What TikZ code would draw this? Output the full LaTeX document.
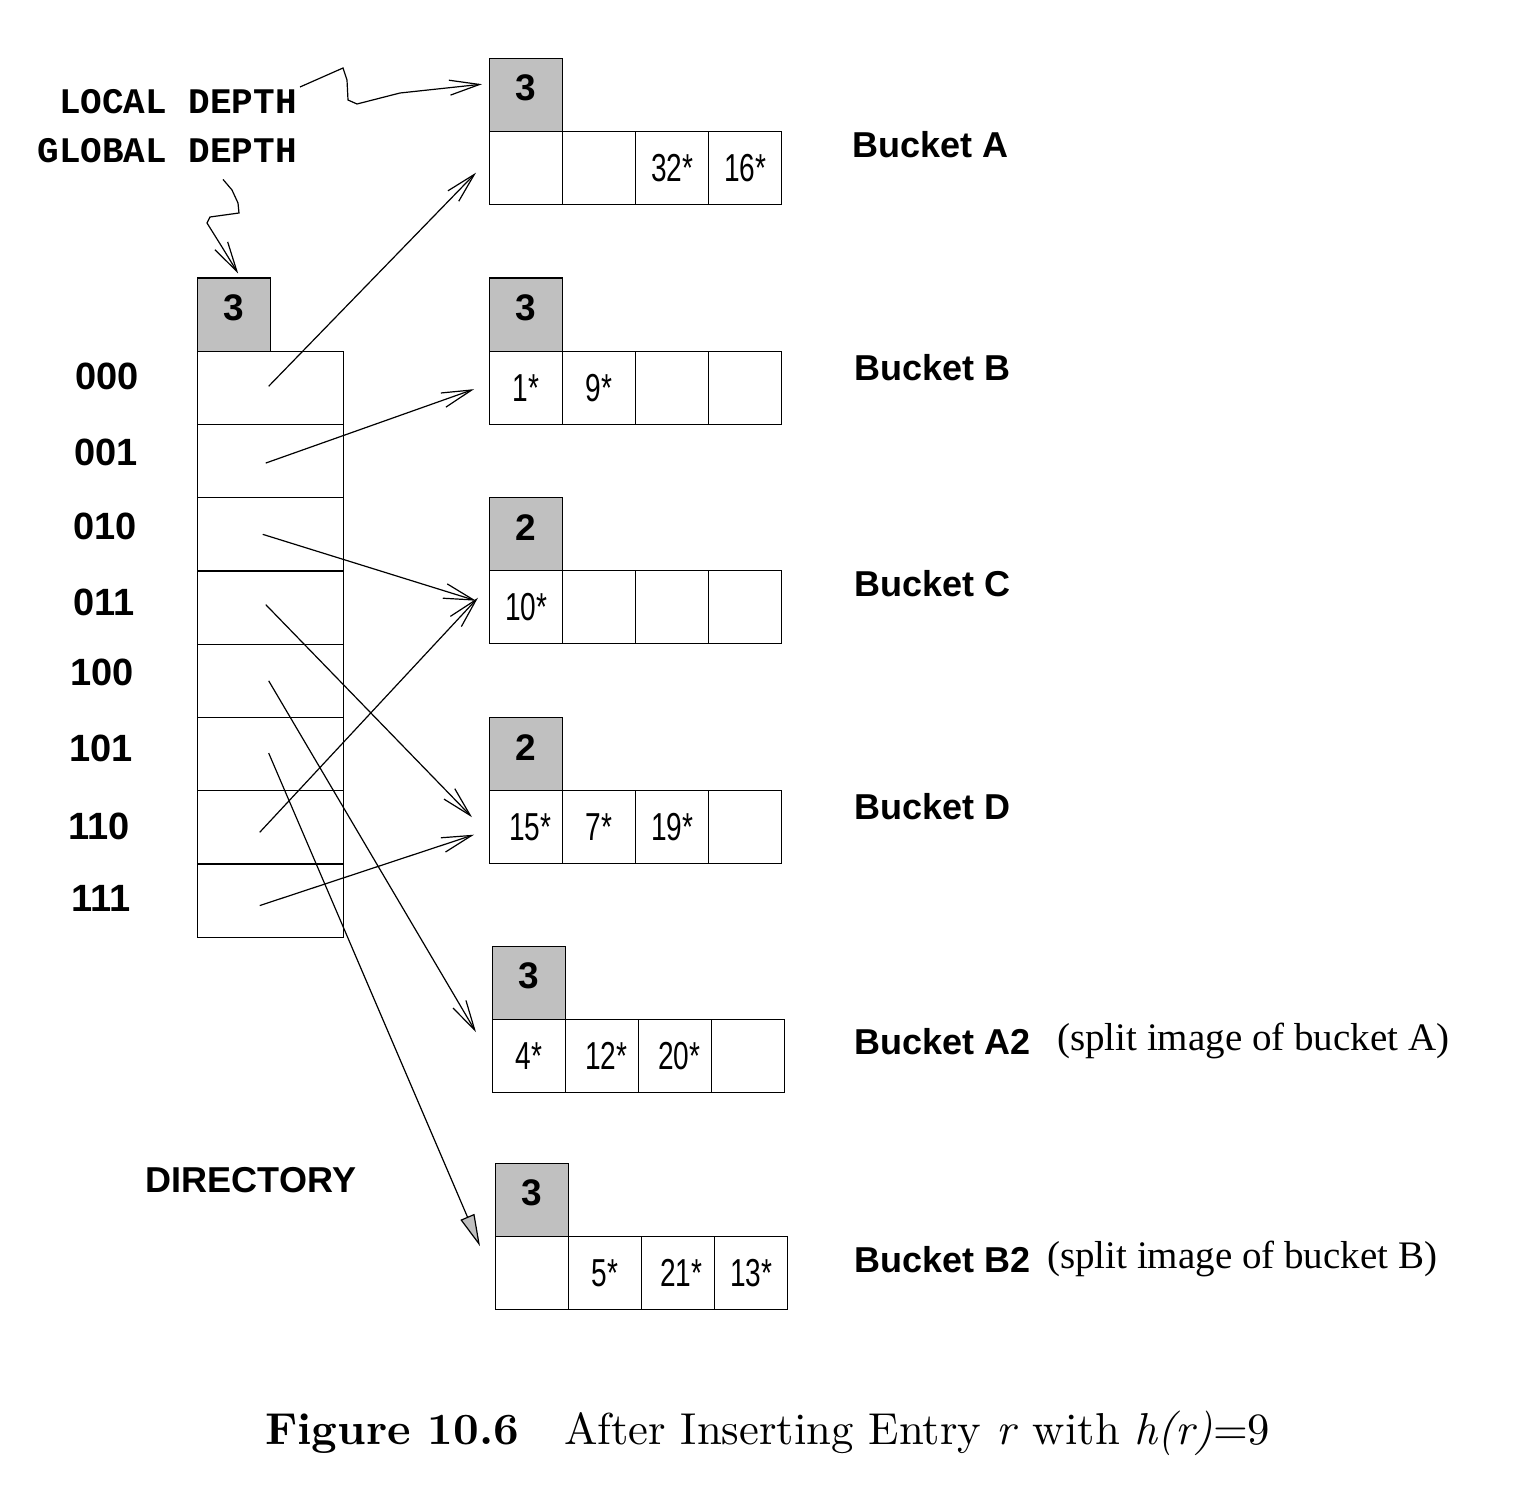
\documentclass[tikz,border=0pt]{standalone}
\usepackage{fontspec}
\setmainfont{lmroman10-regular.otf}[BoldFont=lmroman10-bold.otf, ItalicFont=lmroman10-italic.otf, BoldItalicFont=lmroman10-bolditalic.otf]
\newfontfamily\hvfont{Liberation Sans}
\newfontfamily\hvcond{Liberation Sans}[FakeStretch=0.72]
\newfontfamily\courfont{Liberation Mono}
\newfontfamily\tmsfont{Liberation Serif}
\usetikzlibrary{arrows.meta,calc}
\definecolor{depthgray}{RGB}{192,192,192}
\tikzset{
  cellbox/.style={draw, line width=1.4pt, minimum width=73pt, minimum height=73pt,
    inner sep=0pt, anchor=north west, font=\hvcond\fontsize{39}{44}\selectfont},
  depthbox/.style={cellbox, fill=depthgray},
  dirbox/.style={draw, line width=1.4pt, minimum width=146pt, minimum height=73.25pt,
    inner sep=0pt, anchor=north west},
  depthnum/.style={font=\hvfont\bfseries\fontsize{37}{40}\selectfont},
  boldlab/.style={font=\hvfont\bfseries\fontsize{36}{40}\selectfont, inner sep=0pt},
  rowlab/.style={font=\hvfont\bfseries\fontsize{38}{40}\selectfont, inner sep=0pt},
  monolab/.style={font=\courfont\bfseries\fontsize{36}{40}\selectfont, inner sep=0pt, anchor=east},
  seriflab/.style={font=\tmsfont\fontsize{39}{44}\selectfont, inner sep=0pt, anchor=base west},
  ptr/.style={line width=1.2pt, -{Straight Barb[length=30pt,width=15pt]}},
  grayptr/.style={line width=1.2pt, -{Triangle[length=32pt,width=15pt,fill=depthgray]}},
}
\newcommand\ent[1]{\raisebox{-3pt}{#1}}
\newcommand\mkbucket[8]{%
  \node[depthbox, label={[depthnum, yshift=7pt]center:#4}] (#1d) at (#2,#3) {};
  \node[cellbox] (#11) at (#2,#3+73) {\ent{#5}};
  \node[cellbox] (#12) at (#2+73,#3+73) {\ent{#6}};
  \node[cellbox] (#13) at (#2+146,#3+73) {\ent{#7}};
  \node[cellbox] (#14) at (#2+219,#3+73) {\ent{#8}};
}
\begin{document}
\begin{tikzpicture}[x=1pt,y=-1pt]
\useasboundingbox (0,0) rectangle (1524,1498);

% directory
\node[depthbox, label={[depthnum, yshift=7pt]center:3}] (gd) at (197,277.5) {};
\foreach \k in {0,...,7} {
  \node[dirbox] (d\k) at (197,350.5+73.25*\k) {};
}
\node[rowlab] (l0) at (107,376) {000};
\node[rowlab] (l1) at (106,452) {001};
\node[rowlab] (l2) at (105,526) {010};
\node[rowlab] (l3) at (104,602) {011};
\node[rowlab] (l4) at (102,672) {100};
\node[rowlab] (l5) at (101,748) {101};
\node[rowlab] (l6) at (99,826) {110};
\node[rowlab] (l7) at (101,898) {111};
\node[boldlab] (dirlab) at (251,1180) {DIRECTORY};

% buckets
\mkbucket{A}{489}{58}{3}{}{}{32*}{16*}
\mkbucket{B}{489}{277.5}{3}{1*}{9*}{}{}
\mkbucket{C}{489}{497}{2}{10*}{}{}{}
\mkbucket{D}{489}{717}{2}{\hspace{8pt}15*}{7*}{19*}{}
\mkbucket{E}{492}{946}{3}{4*}{\hspace{8pt}12*}{\hspace{8pt}20*}{}
\mkbucket{F}{495}{1163}{3}{}{5*}{\hspace{6pt}21*}{13*}

% bucket labels
\node[boldlab, anchor=west] (nA) at (852,145) {Bucket A};
\node[boldlab, anchor=west] (nB) at (854,368) {Bucket B};
\node[boldlab, anchor=west] (nC) at (854,584) {Bucket C};
\node[boldlab, anchor=west] (nD) at (854,807) {Bucket D};
\node[boldlab, anchor=west] (nE) at (854,1042) {Bucket A2};
\node[boldlab, anchor=west] (nF) at (854,1260) {Bucket B2};
\node[seriflab] (sE) at (1057,1050) {(split image of bucket A)};
\node[seriflab] (sF) at (1047,1268) {(split image of bucket B)};

% depth labels
\node[monolab] (ld) at (297,102) {LOCAL DEPTH};
\node[monolab] (gdl) at (297,151) {GLOBAL DEPTH};

% wiggly pointers
\draw[ptr] ($(ld.east)+(3,-15)$) -- (343,68) -- (347,80) -- (348,100) -- (357,104)
  -- (400,93) -- ($(Ad.west)+(-7,-11)$);
\draw[ptr] ($(gdl.south east)+(-74,16)$) -- (232,190) -- (238,203) -- (239,213) -- (210,217)
  -- (207,223) -- (222,247) -- ($(gd.north)+(4,-4)$);

% directory pointers
\draw[ptr] ($(d0.center)+(-2,-1.6)$) -- ($(A1.west)+(-13,4.5)$);
\draw[ptr] ($(d1.center)+(-5,2)$) -- ($(B1.west)+(-15,1.5)$);
\draw[ptr] ($(d2.center)+(-8,0)$) -- ($(C1.west)+(-13,-6.5)$);
\draw[ptr] ($(d3.center)+(-5,-3)$) -- ($(D1.west)+(-17,-10)$);
\draw[ptr] ($(d4.center)+(-2,0)$) -- ($(E1.west)+(-16,-24)$);
\draw[grayptr] ($(d5.center)+(-2,-1)$) -- ($(F1.west)+(-15,-27)$);
\draw[ptr] ($(d6.center)+(-11,5)$) -- ($(C1.west)+(-11,-9.5)$);
\draw[ptr] ($(d7.center)+(-11,5)$) -- ($(D1.west)+(-15,7.5)$);

% caption
\node[anchor=base west, inner sep=0pt, font=\fontsize{44.7}{50}\selectfont] (cap) at (265,1444)
  {\textbf{Figure 10.6}\quad After Inserting Entry \textit{r} with \textit{h(r)}=9};
\end{tikzpicture}
\end{document}
